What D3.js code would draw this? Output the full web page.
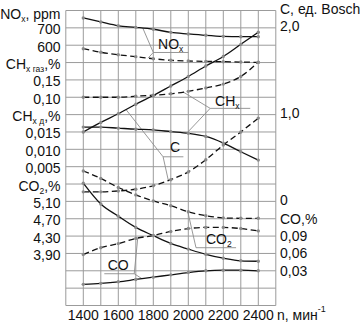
<!DOCTYPE html>
<html><head><meta charset="utf-8">
<script src="https://cdn.jsdelivr.net/npm/d3@7"></script>
<style>
body{margin:0;background:#fff}
svg{display:block}
text{font-family:"Liberation Sans",Arial,sans-serif;fill:#111}
</style>
</head><body><svg id="c" width="360" height="327"></svg>
<script>
// ---- data ----
const rpm = [1400,1500,1600,1700,1800,1900,2000,2100,2200,2300,2400];
const noxSolid   = [757,734,712,703,692,674,665,657,651,649,649];
const noxDashed  = [580,559,545,534,522,513,509,507,505,503,501];
const chxGasDashed = [0.100,0.100,0.100,0.103,0.106,0.110,0.117,0.127,0.138,0.160,0.201];
const chxDSolid  = [0.0164,0.0164,0.0161,0.0158,0.0156,0.0151,0.0146,0.0137,0.0118,0.0093,0.0069];
const cSolid     = [0.80,0.91,1.01,1.12,1.22,1.33,1.44,1.56,1.67,1.81,1.95];
const cDashed    = [0.11,0.11,0.12,0.14,0.18,0.25,0.34,0.48,0.65,0.80,0.96];
const co2Dashed  = [5.80,5.63,5.42,5.25,5.11,5.00,4.86,4.77,4.72,4.71,4.71];
const co2Solid   = [5.52,5.04,4.76,4.50,4.31,4.13,4.00,3.88,3.79,3.73,3.72];
const coDashed   = [0.058,0.070,0.077,0.086,0.091,0.098,0.103,0.105,0.105,0.103,0.099];
const coSolid    = [0.0066,0.0083,0.011,0.015,0.019,0.023,0.027,0.030,0.031,0.031,0.030];

const xTicks = [1400,1600,1800,2000,2200,2400];
const noxTicks = [700,600];
const chxGasTicks = [0.15,0.10];
const chxDTicks = [0.015,0.010,0.005];
const co2Ticks = [5.10,4.70,4.30,3.90];
const cTicks = [2.0,1.0,0];
const coTicks = [0.09,0.06,0.03];

// ---- layout ----
const svg = d3.select('#c');
const plotTop = 10.5, plotBottom = 305.5, plotLeft = 65.8, plotRight = 275.8;
const x = d3.scaleLinear().domain([1300,2500]).range([plotLeft,plotRight]);
const row = d3.scaleLinear().domain([0,17]).range([plotTop,plotBottom]);
const yNOx = d3.scaleLinear().domain([800,-900]).range([plotTop,plotBottom]);
const yGas = d3.scaleLinear().domain([0.35,-0.50]).range([plotTop,plotBottom]);
const yD   = d3.scaleLinear().domain([0.050,-0.035]).range([plotTop,plotBottom]);
const yCO2 = d3.scaleLinear().domain([9.5,2.7]).range([plotTop,plotBottom]);
const yC   = d3.scaleLinear().domain([2.2,-1.2]).range([plotTop,plotBottom]);
const yCO  = d3.scaleLinear().domain([0.48,-0.03]).range([plotTop,plotBottom]);

const gridC = '#9b9b9b';
const g = svg.append('g');
// grid
g.selectAll('.vg').data(d3.range(1300,2501,100)).join('line')
  .attr('x1',d=>x(d)).attr('x2',d=>x(d)).attr('y1',plotTop).attr('y2',plotBottom)
  .attr('stroke',gridC).attr('stroke-width',1);
g.selectAll('.hg').data(d3.range(0,18)).join('line')
  .attr('x1',plotLeft).attr('x2',plotRight).attr('y1',d=>row(d)).attr('y2',d=>row(d))
  .attr('stroke',gridC).attr('stroke-width',1);

// leader lines (annotation) helpers
function interp(series, r){
  for(let i=0;i<rpm.length-1;i++){
    if(r>=rpm[i] && r<=rpm[i+1]){
      const t=(r-rpm[i])/(rpm[i+1]-rpm[i]);
      return series[i]+(series[i+1]-series[i])*t;
    }
  }
  return series[series.length-1];
}
const leadC = '#8c8c8c';
function leader(pts){
  g.append('path').attr('d',d3.line()(pts)).attr('fill','none')
   .attr('stroke',leadC).attr('stroke-width',0.9);
}
// NOx
leader([[x(1740),yNOx(interp(noxSolid,1740))],[x(1800),row(2.42)],[x(2000),row(2.42)]]);
leader([[x(1770),yNOx(interp(noxDashed,1770))],[x(1800),row(2.42)]]);
// CHx
leader([[x(1971),yGas(interp(chxGasDashed,1971))],[x(2125),row(5.64)],[x(2354),row(5.64)]]);
leader([[x(1991),yD(interp(chxDSolid,1991))],[x(2125),row(5.64)]]);
// C
leader([[x(1644),yC(interp(cSolid,1644))],[x(1856),row(8.43)],[x(1972),row(8.43)]]);
leader([[x(1886),yC(interp(cDashed,1886))],[x(1856),row(8.43)]]);
// CO2
leader([[x(1997),yCO2(interp(co2Dashed,1997))],[x(2044),row(13.67)],[x(2273),row(13.67)]]);
// CO
leader([[x(1711),yCO(interp(coDashed,1711))],[x(1691),row(15.17)],[x(1520),row(15.17)]]);
leader([[x(1735),yCO(interp(coSolid,1735))],[x(1691),row(15.17)]]);

// series
const series = [
  {v:noxSolid, y:yNOx, dash:null},
  {v:noxDashed, y:yNOx, dash:'6,3.5'},
  {v:chxGasDashed, y:yGas, dash:'6,3.5'},
  {v:chxDSolid, y:yD, dash:null},
  {v:cSolid, y:yC, dash:null},
  {v:cDashed, y:yC, dash:'6,3.5'},
  {v:co2Dashed, y:yCO2, dash:'6,3.5'},
  {v:co2Solid, y:yCO2, dash:null},
  {v:coDashed, y:yCO, dash:'6,3.5'},
  {v:coSolid, y:yCO, dash:null}
];
series.forEach(s=>{
  const line = d3.line().x((d,i)=>x(rpm[i])).y(d=>s.y(d)).curve(d3.curveMonotoneX);
  g.append('path').datum(s.v).attr('d',line).attr('fill','none')
    .attr('stroke','#111').attr('stroke-width',1.3)
    .attr('stroke-dasharray',s.dash);
});
series.forEach(s=>{
  g.selectAll(null).data(s.v).join('circle')
    .attr('cx',(d,i)=>x(rpm[i])).attr('cy',d=>s.y(d)).attr('r',1.7)
    .attr('fill','#8a8a8a');
});

// rich text helper
function rich(xp, yp, parts, anchor, size){
  const t = svg.append('text').attr('x',xp).attr('y',yp)
    .attr('text-anchor',anchor||'start').attr('font-size',size||14);
  let sub=false;
  parts.forEach(p=>{
    const isSub = p[1]==='sub', isSup = p[1]==='sup';
    const ts = t.append('tspan').text(p[0]);
    if(isSub){ ts.attr('font-size',8.5).attr('dy',sub?0:3); sub=true; }
    else if(isSup){ ts.attr('font-size',9).attr('dy',-8); sub='sup'; }
    else { if(sub===true) ts.attr('dy',-3); sub=false; }
  });
  return t;
}
const fmt = d => (v => d3.format('.'+d+'f')(v).replace('.',','));

// left axis labels
const lx = 60.5;
rich(lx, 18.5, [['NO'],['x','sub'],[', ppm']], 'end');
noxTicks.forEach(v=>rich(lx, yNOx(v)+6.5, [[fmt(0)(v)]], 'end'));
rich(lx, yGas(0.20)+6.5, [['CH'],['x газ','sub'],[',%']], 'end');
chxGasTicks.forEach(v=>rich(lx, yGas(v)+6.5, [[fmt(2)(v)]], 'end'));
rich(lx, yD(0.020)+6.5, [['CH'],['x д','sub'],[',%']], 'end');
chxDTicks.forEach(v=>rich(lx, yD(v)+6.5, [[fmt(3)(v)]], 'end'));
rich(lx, yCO2(5.50)+6.5, [['CO'],['2','sub'],[',%']], 'end');
co2Ticks.forEach(v=>rich(lx, yCO2(v)+6.5, [[fmt(2)(v)]], 'end'));

// right axis labels
const rx = 280;
rich(rx, 13.5, [['C, ед. Bosch']], 'start');
cTicks.forEach(v=>rich(rx, yC(v)+3.5, [[v===0?'0':fmt(1)(v)]], 'start'));
rich(rx, yCO(0.12)+5, [['CO,%']], 'start');
coTicks.forEach(v=>rich(rx, yCO(v)+5, [[fmt(2)(v)]], 'start'));

// x axis labels
xTicks.forEach(v=>rich(x(v), 320, [[String(v)]], 'middle'));
rich(277, 320, [['n, мин'],['-1','sup']], 'start');

// in-plot labels
rich(x(1827), 49, [['NO'],['x','sub']], 'start');
rich(x(2153), 106, [['CH'],['x','sub']], 'start');
rich(x(1895), 152.3, [['C']], 'start');
rich(x(2101), 244, [['CO'],['2','sub']], 'start');
rich(x(1539), 270, [['CO']], 'start');
</script>
</body></html>
